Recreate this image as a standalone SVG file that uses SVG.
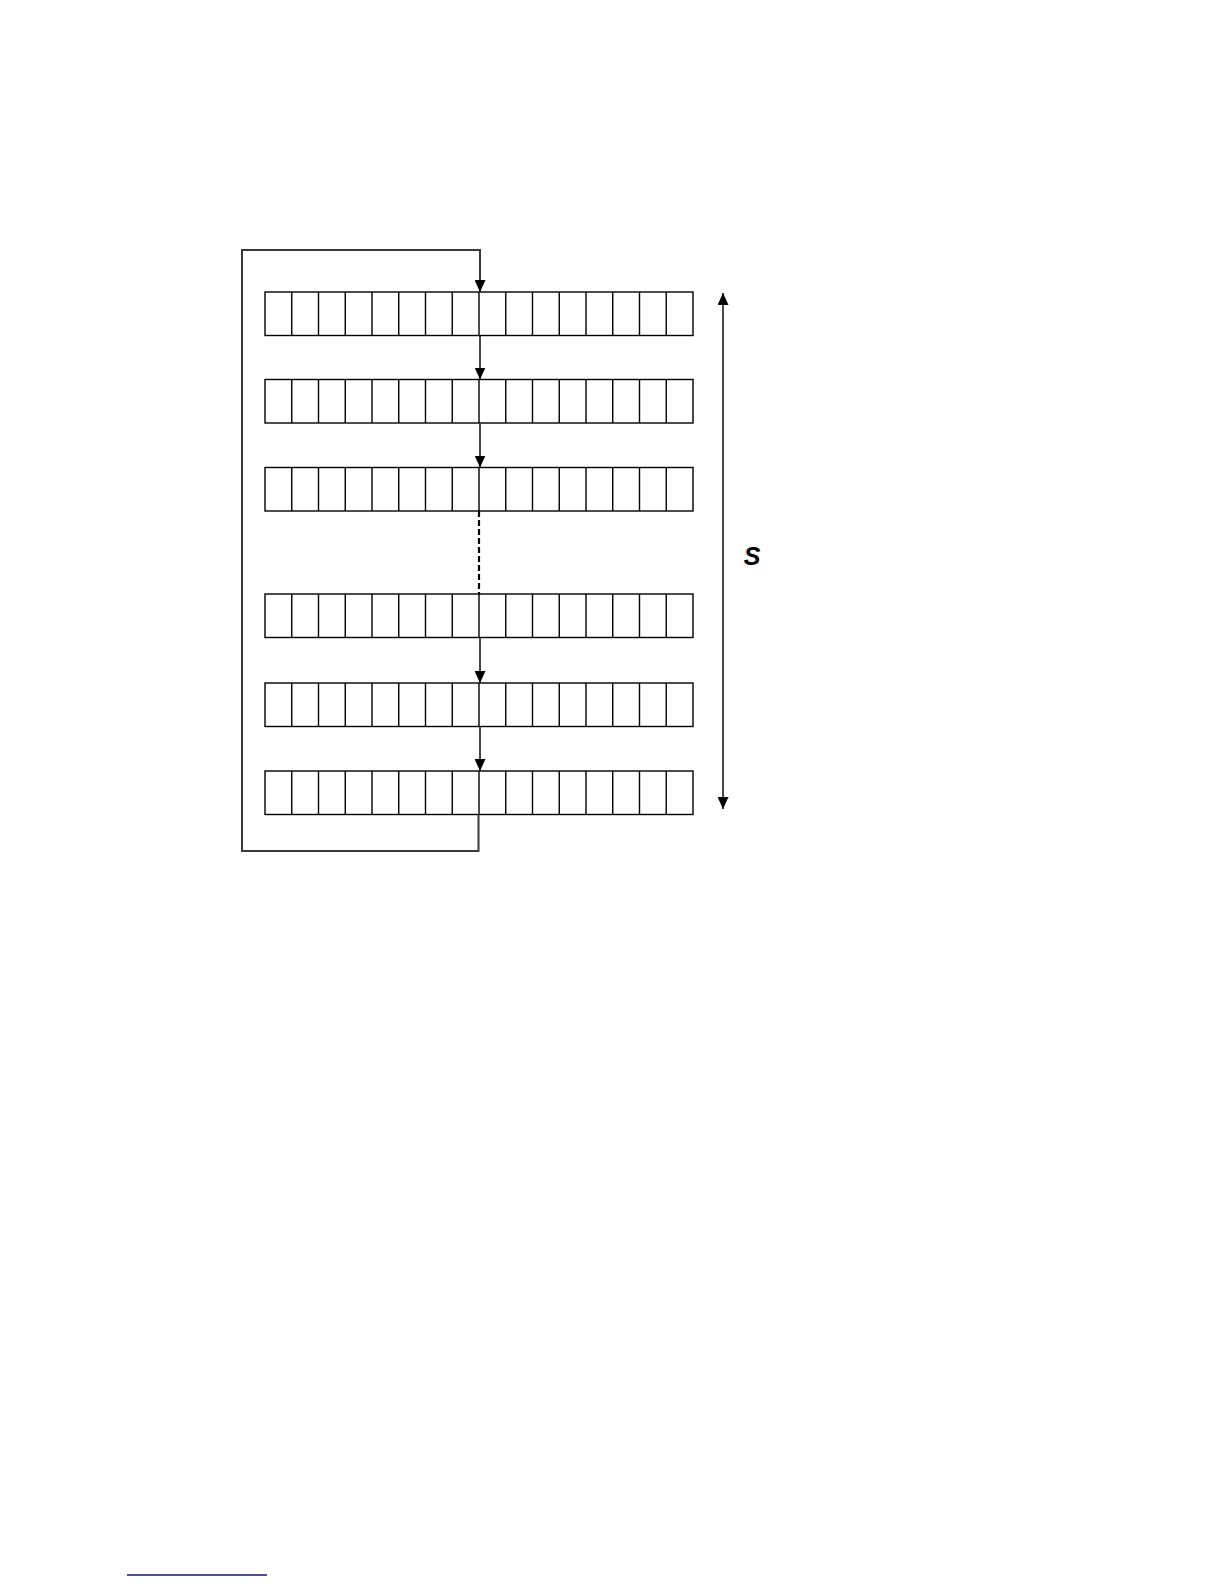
<svg xmlns="http://www.w3.org/2000/svg" width="1224" height="1584" viewBox="0 0 1224 1584">
<style>
.cell{fill:#fff;stroke:#000;stroke-width:1.4}
.conn{fill:none;stroke:#333;stroke-width:1.8}
.loop{fill:none;stroke:#3a3a3a;stroke-width:2}
.dash{fill:none;stroke:#000;stroke-width:2.2;stroke-dasharray:6 3}
.lbl{font-family:"Liberation Sans",Arial,sans-serif;font-size:25px;font-weight:bold;font-style:italic;fill:#000}
</style>
<defs>
<marker id="ah" viewBox="0 0 12 11" refX="12" refY="5.5" markerWidth="12" markerHeight="11" markerUnits="userSpaceOnUse" orient="auto">
<path d="M0,0 L12,5.5 L0,11 Z" fill="#000"/>
</marker>
<marker id="ahs" viewBox="0 0 12 11" refX="0" refY="5.5" markerWidth="12" markerHeight="11" markerUnits="userSpaceOnUse" orient="auto">
<path d="M12,0 L0,5.5 L12,11 Z" fill="#000"/>
</marker>
<g id="row">
<rect class="cell" x="0" y="0" width="428" height="43.5"/>
<path class="cell" d="M26.75,0V43.5M53.5,0V43.5M80.25,0V43.5M107,0V43.5M133.75,0V43.5M160.5,0V43.5M187.25,0V43.5M214,0V43.5M240.75,0V43.5M267.5,0V43.5M294.25,0V43.5M321,0V43.5M347.75,0V43.5M374.5,0V43.5M401.25,0V43.5"/>
</g>
</defs>
<rect width="1224" height="1584" fill="#fff"/>
<g id="row1"><use href="#row" x="265" y="292"/></g>
<g id="row2"><use href="#row" x="265" y="379.5"/></g>
<g id="row3"><use href="#row" x="265" y="467.5"/></g>
<g id="row4"><use href="#row" x="265" y="594"/></g>
<g id="row5"><use href="#row" x="265" y="683"/></g>
<g id="row6"><use href="#row" x="265" y="771"/></g>
<g id="connectors">
<path class="loop" d="M478.5,814.5 V851 H242 V250 H480 V292" marker-end="url(#ah)"/>
<path class="conn" d="M480,335.5 V379.5" marker-end="url(#ah)"/>
<path class="conn" d="M480,423 V467.5" marker-end="url(#ah)"/>
<path class="dash" d="M479,511 V594"/>
<path class="conn" d="M480,637.5 V683" marker-end="url(#ah)"/>
<path class="conn" d="M480,726.5 V771" marker-end="url(#ah)"/>
<path class="conn" stroke="#000" d="M723,293 V809" marker-start="url(#ahs)" marker-end="url(#ah)"/>
</g>
<g id="label-s"><text class="lbl" x="752" y="565" text-anchor="middle">S</text></g>
<line x1="127" y1="1575" x2="267" y2="1575" stroke="#10108a" stroke-width="1.6"/>
</svg>
